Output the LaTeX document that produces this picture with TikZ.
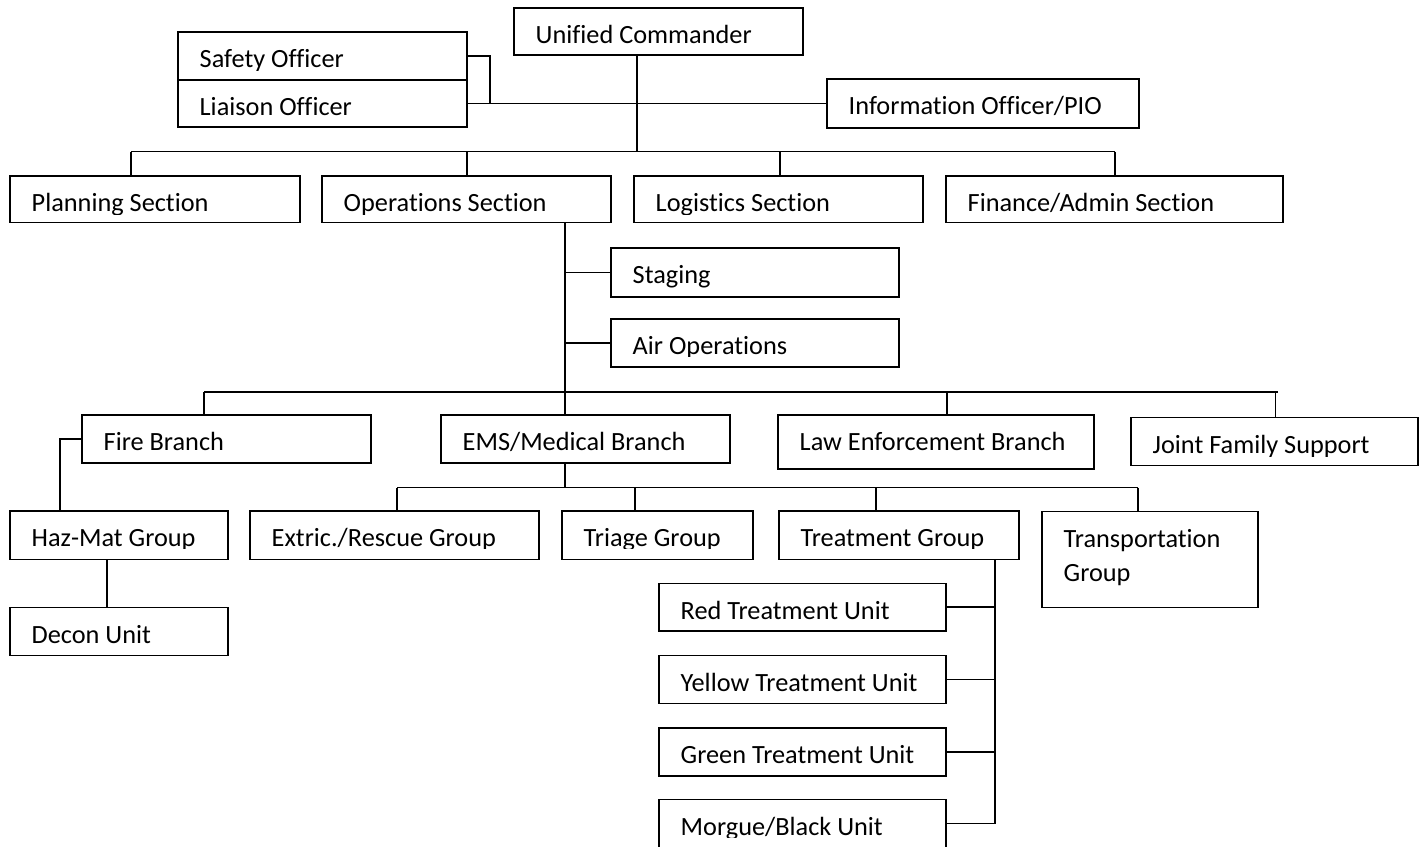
\documentclass[tikz,border=0pt]{standalone}
\usepackage{fontspec}
\setmainfont[Ligatures=NoCommon]{Carlito}
% \orgbox{name}{x1}{y1}{x2}{y2}{visible text depth}{label}
% draws a framed box and its label, the label cut off at the given depth below the top edge
\newcommand\orgbox[7]{%
  \node[box, minimum width={(#4-#2)*1pt}, minimum height={(#5-#3)*1pt}] (#1) at (#2,#3) {};
  \begin{scope}
    \clip (#2,#3) rectangle (#4,#3+#6);
    \node[lbl] at (#2+21.5,#3+35.5) {#7};
  \end{scope}}
\begin{document}
\begin{tikzpicture}[x=1pt,y=-1pt,
  box/.style={draw, line width=1.9pt, inner sep=0pt, outer sep=0pt, anchor=north west},
  wire/.style={line width=1.9pt},
  lbl/.style={inner sep=0pt, anchor=base west, align=left,
    font=\fontsize{26.3}{34.4}\selectfont}]
\useasboundingbox (0,0) rectangle (1420,846);

% command staff
\orgbox{uc}{514}{8}{803}{55}{60}{Unified Commander}
\orgbox{safety}{178}{32}{467}{80}{38}{Safety Officer}
\orgbox{liaison}{178}{80}{467}{127}{60}{Liaison Officer}
\orgbox{info}{827}{79}{1139}{128}{60}{Information Officer/PIO}

% general staff sections
\orgbox{plan}{10}{176}{300}{222.5}{38.5}{Planning Section}
\orgbox{ops}{322}{176}{611}{222.5}{38.5}{Operations Section}
\orgbox{logi}{634}{176}{923}{222.5}{38.5}{Logistics Section}
\orgbox{fin}{946}{176}{1283}{222.5}{38.5}{Finance/Admin Section}

% operations support
\orgbox{staging}{611}{248}{899}{297}{60}{Staging}
\orgbox{air}{611}{319}{899}{367}{37.5}{Air Operations}

% branches
\orgbox{fire}{82}{415}{371}{463}{60}{Fire Branch}
\orgbox{ems}{441}{415}{730}{463}{60}{EMS/Medical Branch}
\orgbox{law}{778}{415}{1094}{469}{60}{Law Enforcement Branch}
\orgbox{joint}{1131}{417.5}{1418}{465.5}{38.5}{Joint Family Support}

% groups
\orgbox{haz}{10}{511}{228}{559.5}{37.5}{Haz-Mat Group}
\orgbox{decon}{10}{607.5}{228}{655.5}{60}{Decon Unit}
\orgbox{extric}{250}{511}{539}{559.5}{37.5}{Extric./Rescue Group}
\orgbox{triage}{562}{511}{753}{559.5}{37.5}{Triage Group}
\orgbox{treat}{779}{511}{1019}{559.5}{37.5}{Treatment Group}
% two-line label: the node's base is its last line
\node[box, minimum width=216pt, minimum height=96pt] (trans) at (1042,511.5) {};
\node[lbl] at (1063.5,581.5) {Transportation\\Group};

% treatment units
\orgbox{red}{659}{583.5}{946}{631}{60}{Red Treatment Unit}
\orgbox{yellow}{659}{655.5}{946}{703.5}{60}{Yellow Treatment Unit}
\orgbox{green}{659}{728}{946}{776}{60}{Green Treatment Unit}
\orgbox{morgue}{659}{799.5}{946}{847.5}{38}{Morgue/Black Unit}

% connectors: command staff
\coordinate (stafftee) at (490,103.5);
\draw[wire] (safety.east) -| (stafftee);
\draw[wire] (liaison.east) -- (info.west);
\coordinate (secbus) at (637,151.5);
\draw[wire] (637,0 |- uc.south) -- (secbus);
\draw[wire] (131,151.5) -- (1115,151.5);
\draw[wire] (131,151.5) -- (131,0 |- plan.north);
\draw[wire] (467,151.5) -- (467,0 |- ops.north);
\draw[wire] (780,151.5) -- (780,0 |- logi.north);
\draw[wire] (1115,151.5) -- (1115,0 |- fin.north);

% connectors: operations
\coordinate (brbus) at (565,392);
\draw[wire] (565,0 |- ops.south) -- (brbus);
\draw[wire] (565,0 |- staging.west) -- (staging.west);
\draw[wire] (565,0 |- air.west) -- (air.west);
\draw[wire] (204,392) -- (1278,392);
\draw[wire] (204,392) -- (204,0 |- fire.north);
\draw[wire] (brbus) -- (565,0 |- ems.north);
\draw[wire] (947,392) -- (947,0 |- law.north);
\draw[wire] (1275.5,392) -- (1275.5,0 |- joint.north);

% connectors: fire branch
\draw[wire] (fire.west) -| (60,0 |- haz.north);
\draw[wire] (107,0 |- haz.south) -- (107,0 |- decon.north);

% connectors: medical branch
\coordinate (grpbus) at (565,487.5);
\draw[wire] (565,0 |- ems.south) -- (grpbus);
\draw[wire] (397,487.5) -- (1138,487.5);
\draw[wire] (397,487.5) -- (397,0 |- extric.north);
\draw[wire] (635,487.5) -- (635,0 |- triage.north);
\draw[wire] (876,487.5) -- (876,0 |- treat.north);
\draw[wire] (1138,487.5) -- (1138,0 |- trans.north);

% connectors: treatment units
\draw[wire] (995,0 |- treat.south) -- (995,0 |- morgue.east);
\draw[wire] (red.east) -- (995,0 |- red.east);
\draw[wire] (yellow.east) -- (995,0 |- yellow.east);
\draw[wire] (green.east) -- (995,0 |- green.east);
\draw[wire] (morgue.east) -- (995,0 |- morgue.east);
\end{tikzpicture}
\end{document}
